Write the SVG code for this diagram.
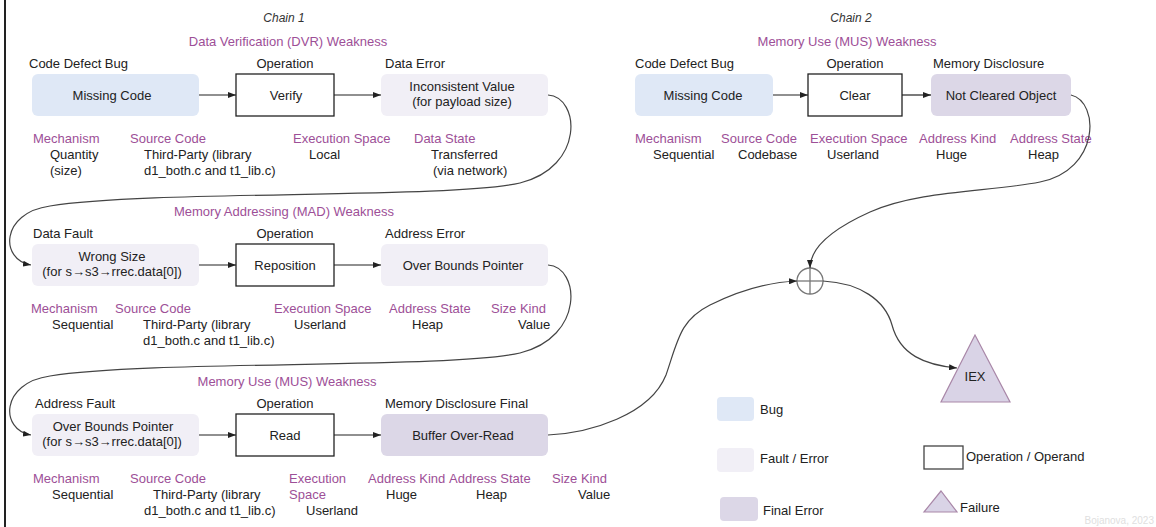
<svg xmlns="http://www.w3.org/2000/svg" width="1156" height="527" viewBox="0 0 1156 527">
  <style>
    text { font-family: "Liberation Sans", Arial, sans-serif; font-size: 13px; fill: #222; }
    .m { text-anchor: middle; }
    .p { fill: #9d4f97; }
    .chain { font-style: italic; font-size: 12px; fill: #333; }
    .bug { fill: #dfe8f6; }
    .fe { fill: #f1eff6; }
    .fin { fill: #dcd7e7; }
    .op { fill: #fff; stroke: #222; stroke-width: 1.3; }
    .flow { stroke: #222; stroke-width: 1.2; fill: none; }
    .link { stroke: #444; stroke-width: 1.2; fill: none; }
    .fail { fill: #d9d3e6; stroke: #a987a8; stroke-width: 1.2; }
    .mark { fill: #e0e0e0; font-size: 10px; text-anchor: end; }
  </style>
  <defs>
    <marker id="ah" viewBox="0 0 8 6" refX="8" refY="3" markerWidth="8" markerHeight="6" markerUnits="userSpaceOnUse" orient="auto">
      <path d="M0,0 L8,3 L0,6 z" fill="#222"/>
    </marker>
  </defs>

  <rect width="1156" height="527" fill="#fff"/>
  <rect x="4" y="0" width="2" height="527" fill="#222"/>

  <!-- chain titles and weakness headings -->
  <text class="chain m" x="284" y="22">Chain 1</text>
  <text class="chain m" x="851" y="22">Chain 2</text>
  <text class="p m" x="288" y="46">Data Verification (DVR) Weakness</text>
  <text class="p m" x="284" y="216">Memory Addressing (MAD) Weakness</text>
  <text class="p m" x="287" y="386">Memory Use (MUS) Weakness</text>
  <text class="p m" x="847" y="46">Memory Use (MUS) Weakness</text>

  <!-- Chain 1, DVR -->
  <g id="c1-dvr-cause">
    <text x="29" y="68">Code Defect Bug</text>
    <rect class="bug" x="32" y="74" width="167" height="42" rx="6"/>
    <text class="m" x="112" y="99.5">Missing Code</text>
  </g>
  <g id="c1-dvr-operation">
    <text class="m" x="285" y="68">Operation</text>
    <rect class="op" x="236" y="74" width="98" height="42"/>
    <text class="m" x="286" y="99.5">Verify</text>
  </g>
  <g id="c1-dvr-consequence">
    <text x="385" y="68">Data Error</text>
    <rect class="fe" x="381" y="74" width="167" height="42" rx="6"/>
    <text class="m" x="462" y="91">Inconsistent Value</text>
    <text class="m" x="462" y="105.5">(for payload size)</text>
  </g>
  <g id="c1-dvr-attributes">
    <text class="p" x="33" y="143">Mechanism</text>
    <text class="p" x="130" y="143">Source Code</text>
    <text class="p" x="293" y="143">Execution Space</text>
    <text class="p" x="414" y="143">Data State</text>
    <text x="50" y="159">Quantity</text>
    <text x="50" y="175">(size)</text>
    <text x="144" y="159">Third-Party (library</text>
    <text x="144" y="175">d1_both.c and t1_lib.c)</text>
    <text x="309" y="159">Local</text>
    <text x="431" y="159">Transferred</text>
    <text x="433" y="175">(via network)</text>
  </g>

  <!-- Chain 1, MAD -->
  <g id="c1-mad-cause">
    <text x="33" y="238">Data Fault</text>
    <rect class="fe" x="32" y="244" width="167" height="42" rx="6"/>
    <text class="m" x="112" y="261">Wrong Size</text>
    <text class="m" x="112" y="275.5">(for  s→s3→rrec.data[0])</text>
  </g>
  <g id="c1-mad-operation">
    <text class="m" x="285" y="238">Operation</text>
    <rect class="op" x="236" y="244" width="98" height="42"/>
    <text class="m" x="285" y="269.5">Reposition</text>
  </g>
  <g id="c1-mad-consequence">
    <text x="385" y="238">Address Error</text>
    <rect class="fe" x="381" y="244" width="167" height="42" rx="6"/>
    <text class="m" x="463" y="269.5">Over Bounds Pointer</text>
  </g>
  <g id="c1-mad-attributes">
    <text class="p" x="31" y="313">Mechanism</text>
    <text class="p" x="115" y="313">Source Code</text>
    <text class="p" x="274" y="313">Execution Space</text>
    <text class="p" x="389" y="313">Address State</text>
    <text class="p" x="491" y="313">Size Kind</text>
    <text x="52" y="329">Sequential</text>
    <text x="143" y="329">Third-Party (library</text>
    <text x="143" y="345">d1_both.c and t1_lib.c)</text>
    <text x="294" y="329">Userland</text>
    <text x="412" y="329">Heap</text>
    <text x="518" y="329">Value</text>
  </g>

  <!-- Chain 1, MUS -->
  <g id="c1-mus-cause">
    <text x="35" y="408">Address Fault</text>
    <rect class="fe" x="32" y="414" width="167" height="42" rx="6"/>
    <text class="m" x="113" y="431">Over Bounds Pointer</text>
    <text class="m" x="112" y="445.5">(for  s→s3→rrec.data[0])</text>
  </g>
  <g id="c1-mus-operation">
    <text class="m" x="285" y="408">Operation</text>
    <rect class="op" x="236" y="414" width="98" height="42"/>
    <text class="m" x="285" y="439.5">Read</text>
  </g>
  <g id="c1-mus-consequence">
    <text x="385" y="408">Memory Disclosure Final</text>
    <rect class="fin" x="381" y="414" width="167" height="42" rx="6"/>
    <text class="m" x="463" y="439.5">Buffer Over-Read</text>
  </g>
  <g id="c1-mus-attributes">
    <text class="p" x="33" y="483">Mechanism</text>
    <text class="p" x="130" y="483">Source Code</text>
    <text class="p" x="289" y="483">Execution</text>
    <text class="p" x="289" y="499">Space</text>
    <text class="p" x="368" y="483">Address Kind</text>
    <text class="p" x="449" y="483">Address State</text>
    <text class="p" x="552" y="483">Size Kind</text>
    <text x="52" y="499">Sequential</text>
    <text x="153" y="499">Third-Party (library</text>
    <text x="144" y="515">d1_both.c and t1_lib.c)</text>
    <text x="306" y="515">Userland</text>
    <text x="386" y="499">Huge</text>
    <text x="476" y="499">Heap</text>
    <text x="578" y="499">Value</text>
  </g>

  <!-- Chain 2, MUS -->
  <g id="c2-mus-cause">
    <text x="635" y="68">Code Defect Bug</text>
    <rect class="bug" x="635" y="74" width="138" height="42" rx="6"/>
    <text class="m" x="703" y="99.5">Missing Code</text>
  </g>
  <g id="c2-mus-operation">
    <text class="m" x="855" y="68">Operation</text>
    <rect class="op" x="808" y="74" width="94" height="42"/>
    <text class="m" x="855" y="99.5">Clear</text>
  </g>
  <g id="c2-mus-consequence">
    <text x="933" y="68">Memory Disclosure</text>
    <rect class="fin" x="931" y="74" width="140" height="42" rx="6"/>
    <text class="m" x="1001" y="99.5">Not Cleared Object</text>
  </g>
  <g id="c2-mus-attributes">
    <text class="p" x="635" y="143">Mechanism</text>
    <text class="p" x="721" y="143">Source Code</text>
    <text class="p" x="810" y="143">Execution Space</text>
    <text class="p" x="919" y="143">Address Kind</text>
    <text class="p" x="1010" y="143">Address State</text>
    <text x="653" y="159">Sequential</text>
    <text x="738" y="159">Codebase</text>
    <text x="827" y="159">Userland</text>
    <text x="936" y="159">Huge</text>
    <text x="1028" y="159">Heap</text>
  </g>

  <!-- convergence of both chains -->
  <g id="combine">
    <circle cx="810" cy="281" r="13" fill="#fff" stroke="#777" stroke-width="1.3"/>
    <line x1="810" y1="268" x2="810" y2="294" stroke="#777" stroke-width="1.3"/>
    <line x1="797" y1="281" x2="823" y2="281" stroke="#777" stroke-width="1.3"/>
  </g>
  <g id="iex">
    <polygon class="fail" points="975,335 941,402 1010,402"/>
    <text class="m" x="975" y="381">IEX</text>
  </g>

  <!-- connectors -->
  <g id="connectors">
    <line class="flow" x1="199" y1="95" x2="236" y2="95" marker-end="url(#ah)"/>
    <line class="flow" x1="334" y1="95" x2="381" y2="95" marker-end="url(#ah)"/>
    <line class="flow" x1="199" y1="265" x2="236" y2="265" marker-end="url(#ah)"/>
    <line class="flow" x1="334" y1="265" x2="381" y2="265" marker-end="url(#ah)"/>
    <line class="flow" x1="199" y1="435" x2="236" y2="435" marker-end="url(#ah)"/>
    <line class="flow" x1="334" y1="435" x2="381" y2="435" marker-end="url(#ah)"/>
    <line class="flow" x1="773" y1="95" x2="808" y2="95" marker-end="url(#ah)"/>
    <line class="flow" x1="902" y1="95" x2="931" y2="95" marker-end="url(#ah)"/>
    <path class="link" d="M548 95 C580 97,585 167,520 183 C450 199,150 190,50 206 C0 213,0 260,31 265" marker-end="url(#ah)"/>
    <path class="link" d="M548 265 C580 267,585 337,520 353 C450 369,150 360,50 376 C0 383,0 430,31 435" marker-end="url(#ah)"/>
    <path class="link" d="M1071 95 C1100 102,1100 170,1040 182 C990 192,920 190,870 212 C830 230,810 248,810 268" marker-end="url(#ah)"/>
    <path class="link" d="M548 435 C590 433,650 415,666 375 C678 340,680 320,710 305 C740 290,770 282,797 281" marker-end="url(#ah)"/>
    <path class="link" d="M823 281 C860 283,885 300,892 325 C900 355,925 365,957 368" marker-end="url(#ah)"/>
  </g>

  <!-- legend -->
  <g id="legend-bug">
    <rect class="bug" x="717" y="397" width="37" height="24" rx="4"/>
    <text x="760" y="414">Bug</text>
  </g>
  <g id="legend-fault-error">
    <rect class="fe" x="717" y="448" width="37" height="24" rx="4"/>
    <text x="760" y="463">Fault / Error</text>
  </g>
  <g id="legend-final-error">
    <rect class="fin" x="720" y="497" width="38" height="24" rx="4"/>
    <text x="763" y="515">Final Error</text>
  </g>
  <g id="legend-operation">
    <rect x="924" y="446" width="39" height="23" fill="#fff" stroke="#444" stroke-width="1.3"/>
    <text x="966" y="461">Operation / Operand</text>
  </g>
  <g id="legend-failure">
    <polygon class="fail" points="941,491 924,512 957,512"/>
    <text x="960" y="512">Failure</text>
  </g>

  <text class="mark" x="1154" y="524">Bojanova, 2023</text>
</svg>
